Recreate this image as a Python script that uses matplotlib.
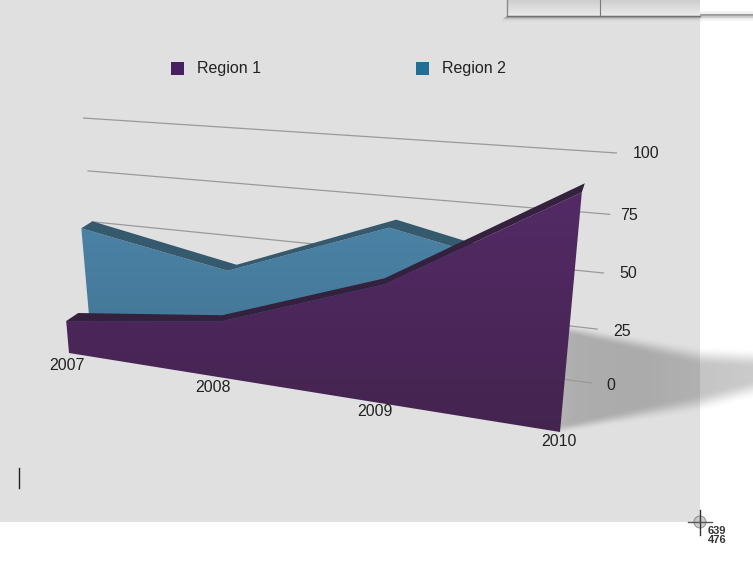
import matplotlib
matplotlib.use("Agg")
import matplotlib.pyplot as plt
from matplotlib.colors import LinearSegmentedColormap
from matplotlib.patches import Polygon, Rectangle, Circle
import numpy as np

plt.rcParams['font.family'] = ['Liberation Sans', 'DejaVu Sans']

# data
years = ["2007", "2008", "2009", "2010"]
region1 = [15, 25, 49, 90]
region2 = [53, 41, 67, 53]
ticks = [0, 25, 50, 75, 100]
legend_names = ["Region 1", "Region 2"]

W, H = 753, 572
fig = plt.figure(figsize=(W / 100, H / 100), dpi=100)
ax = fig.add_axes([0, 0, 1, 1])


def make_plane(p00, p10, p01, p11):
    # perspective map of the unit square (year 0..3, value 0..100) to the screen
    src = [(0, 0), (1, 0), (0, 1), (1, 1)]
    dst = [p00, p10, p01, p11]
    A, b = [], []
    for (u, v), (x, y) in zip(src, dst):
        A.append([u, v, 1, 0, 0, 0, -u * x, -v * x])
        A.append([0, 0, 0, u, v, 1, -u * y, -v * y])
        b += [x, y]
    h = np.linalg.solve(np.array(A, float), np.array(b, float))
    m = np.append(h, 1).reshape(3, 3)

    def project(t, val):
        t = np.asarray(t, float) / 3.0
        val = np.asarray(val, float) / 100.0
        w = m[2, 0] * t + m[2, 1] * val + 1
        return (m[0, 0] * t + m[0, 1] * val + m[0, 2]) / w, (m[1, 0] * t + m[1, 1] * val + m[1, 2]) / w
    return project


wall = make_plane((100, 318), (592, 383), (83, 118), (617, 153))
plane1 = make_plane((69, 353), (560, 432), (49, 125), (584.5, 163))
plane2 = make_plane((91, 338), (553, 405), (72, 122), (581, 158))

# where the years sit along each plane
year_pos1 = [0, 1.06, 2.03, 3]
year_pos2 = [0, 1, 2, 3]

# bevel on top of each area, in pixels
bevel1 = [(12, -8), (1, -6), (0, -6), (3, -9)]
bevel2 = [(11, -7), (9, -6), (7, -8), (0, -8)]

# background
ax.add_patch(Rectangle((0, 0), W, H, fc="white", ec="none", zorder=0))
ax.add_patch(Rectangle((0, 0), 700, 522, fc="#e0e0e0", ec="none", zorder=0.1))

# soft shadow thrown to the right
xs = np.arange(555, W)
ys = np.arange(300, 450)
X, Y = np.meshgrid(xs + 0.5, ys + 0.5)
top = np.interp(X, [565, 700, 753], [326, 350, 352])
bot = np.interp(X, [560, 700, 753], [431, 407, 393])
soft = np.interp(X, [560, 700], [9, 20])


def smooth(a):
    a = np.clip(a, 0, 1)
    return a * a * (3 - 2 * a)


alpha = smooth((Y - top) / soft + 0.2) * smooth((bot - Y) / soft + 0.3)
alpha *= np.interp(X, [555, 575, 640, 753], [0.8, 0.95, 1, 0.8])
shadow = np.zeros(X.shape + (4,))
shadow[..., :3] = 0.36
shadow[..., 3] = alpha * 0.4
ax.imshow(shadow, extent=(555, W, 450, 300), origin="upper", aspect="auto", zorder=0.5)

# gridlines and tick labels
for val in ticks:
    gx, gy = wall(np.array([0, 3]), np.array([val, val]))
    ax.plot(gx, gy, color="#9a9a9a", lw=0.9, zorder=1, solid_capstyle="butt")
tick_pos = [(611, 385), (622, 331), (628, 273), (629, 215), (646, 153)]
for val, (tx, ty) in zip(ticks, tick_pos):
    ax.text(tx, ty, str(val), fontsize=11.5, color="#222222", ha="center", va="center", zorder=6)


def area(project, t, values, bevel, top_col, bot_col, ridge_col, z):
    x, y = project(t, values)
    bx, by = project(t, np.zeros(len(values)))
    face = list(zip(x, y)) + list(zip(bx[::-1], by[::-1]))
    cmap = LinearSegmentedColormap.from_list("f", [top_col, bot_col])
    y0, y1 = min(p[1] for p in face), max(p[1] for p in face)
    x0, x1 = min(p[0] for p in face), max(p[0] for p in face)
    im = ax.imshow(np.linspace(0, 1, 64).reshape(-1, 1), cmap=cmap, aspect="auto",
                   extent=(x0, x1, y1, y0), origin="upper", zorder=z)
    poly = Polygon(face, closed=True, fc="none", ec="none", transform=ax.transData, zorder=z)
    ax.add_patch(poly)
    im.set_clip_path(poly)
    back = [(a + d[0], b + d[1]) for a, b, d in zip(x, y, bevel)]
    ax.add_patch(Polygon(list(zip(x, y)) + back[::-1], closed=True, fc=ridge_col, ec="none", zorder=z + 0.1))


area(plane2, year_pos2, region2, bevel2, "#4a82a5", "#41708f", "#35596d", 2)
area(plane1, year_pos1, region1, bevel1, "#532a66", "#44244f", "#33213e", 3)

# year labels
year_label_pos = [(67, 365), (213, 387), (375, 412), (559, 441)]
for lab, (tx, ty) in zip(years, year_label_pos):
    ax.text(tx, ty, lab, fontsize=11.5, color="#222222", ha="center", va="center", zorder=6)

# legend
legend_cols = ["#47215f", "#206f97"]
legend_x = [171, 416]
for name, col, lx in zip(legend_names, legend_cols, legend_x):
    ax.add_patch(Rectangle((lx, 62), 13, 13, fc=col, ec="none", zorder=6))
    ax.text(lx + 26, 68.5, name, fontsize=11.5, color="#222222", ha="left", va="center", zorder=6)

# bit of a window over the top right corner
grad = LinearSegmentedColormap.from_list("g", ["#cfcfcf", "#e9e9e9"])
ax.imshow(np.linspace(0, 1, 16).reshape(-1, 1), cmap=grad, aspect="auto",
          extent=(507, 700, 15, 0), origin="upper", zorder=7)
ax.plot([507, 507], [0, 15.5], color="#8a8a8a", lw=1, zorder=8)
ax.plot([507, 700], [15.5, 15.5], color="#707070", lw=1, zorder=8)
ax.plot([600, 600], [0, 15], color="#7a7a7a", lw=0.8, zorder=8)
for i, c in enumerate(["#a4a4a4", "#bcbcbc", "#cfcfcf", "#dadada"]):
    ax.plot([505 - i, 700], [17 + i, 17 + i], color=c, lw=1, zorder=6)
for i, c in enumerate(["#f8f8f8", "#eeeeee", "#909090", "#a8a8a8", "#cccccc", "#e8e8e8", "#f6f6f6"]):
    ax.plot([701, W], [12 + i * 1.3, 12 + i * 1.3], color=c, lw=1.3, zorder=6)

# text cursor and screenshot crosshair
ax.plot([19, 19], [468, 488], color="#222222", lw=1, zorder=8)
ax.add_patch(Circle((700, 522), 6, fc="#bdbdbd", ec="#777777", lw=0.8, alpha=0.7, zorder=8))
ax.plot([700, 700], [510, 535], color="#333333", lw=1, zorder=9)
ax.plot([688, 712], [522, 522], color="#555555", lw=1, zorder=9)
ax.text(717, 530.5, "639", fontsize=8, fontweight="bold", color="#333333", ha="center", va="center", zorder=9)
ax.text(717, 540, "476", fontsize=8, fontweight="bold", color="#333333", ha="center", va="center", zorder=9)

ax.set_xlim(0, W)
ax.set_ylim(H, 0)
ax.axis("off")
fig.savefig("out.png", dpi=100)
